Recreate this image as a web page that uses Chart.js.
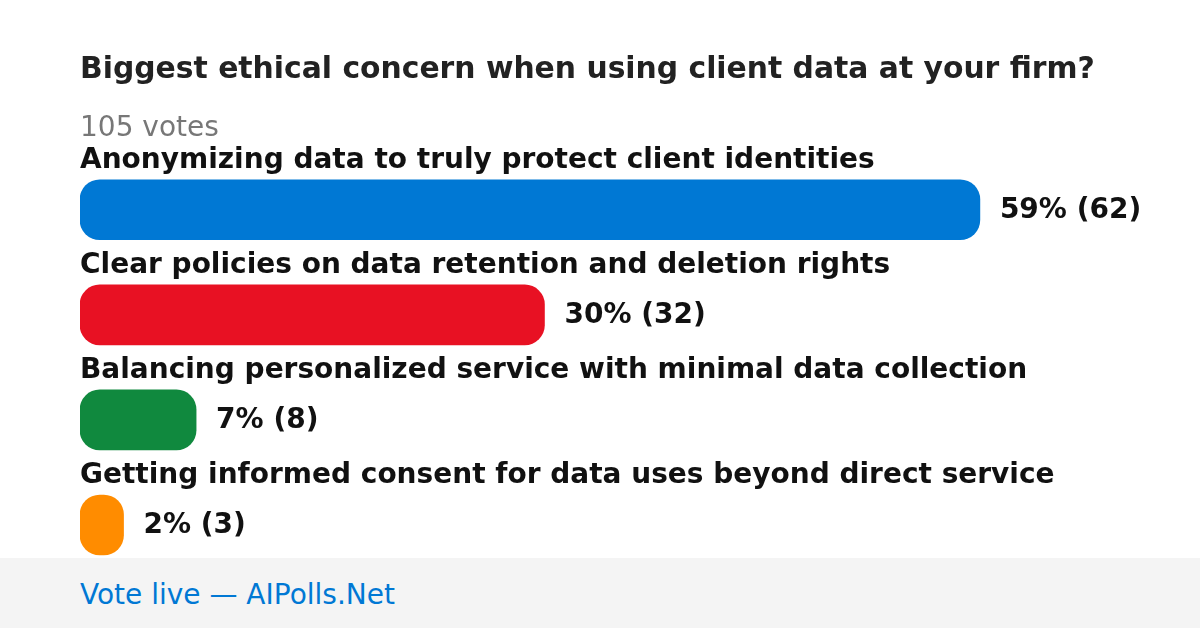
<!DOCTYPE html>
<html lang="en">
<head>
    <meta charset="UTF-8">
    <title>Biggest ethical concern when using client data</title>
    <script src="https://cdn.jsdelivr.net/npm/chart.js"></script>
    <style>
      body {
        margin: 0;
        background: white;
        font-family: "DejaVu Sans", sans-serif;
      }
      .wrap {
        position: relative;
        width: 1200px;
        height: 628px;
        overflow: hidden;
      }
      canvas {
        display: block;
      }
      .footer {
        position: absolute;
        left: 0;
        top: 558px;
        width: 1200px;
        height: 70px;
        background: #f4f4f4;
        color: #0078d4;
        font-size: 28px;
        line-height: 74px;
        padding-left: 80px;
        box-sizing: border-box;
      }
    </style>
</head>
<body>
  <div class="wrap">
    <canvas id="pollChart" width="1200" height="628"></canvas>
    <div class="footer">Vote live — AIPolls.Net</div>
  </div>

  <script>
    const pollTitle = "Biggest ethical concern when using client data at your firm?";
    const totalVotes = "105 votes";
    const options = [
      "Anonymizing data to truly protect client identities",
      "Clear policies on data retention and deletion rights",
      "Balancing personalized service with minimal data collection",
      "Getting informed consent for data uses beyond direct service"
    ];
    const votes = [62, 32, 8, 3];
    const percents = [59, 30, 7, 2];
    const barColors = ["#0078d4", "#e81123", "#10893e", "#ff8c00"];

    const FONT = "DejaVu Sans";

    // labels above each bar + value text to the right of it
    const barText = {
      id: 'barText',
      afterDatasetsDraw(chart) {
        const ctx = chart.ctx;
        const meta = chart.getDatasetMeta(0);
        ctx.save();
        ctx.fillStyle = '#111';
        ctx.textBaseline = 'middle';
        ctx.textAlign = 'left';
        ctx.font = 'bold 28px "' + FONT + '"';
        meta.data.forEach((bar, i) => {
          const half = bar.height / 2;
          ctx.fillText(options[i], chart.chartArea.left, bar.y - half - 19);
          ctx.fillText(percents[i] + '% (' + votes[i] + ')', bar.x + 20, bar.y + 1);
        });
        ctx.restore();
      }
    };

    new Chart(document.getElementById('pollChart'), {
      type: 'bar',
      data: {
        labels: options,
        datasets: [{
          data: votes,
          backgroundColor: barColors,
          borderRadius: 20,
          borderSkipped: false,
          barThickness: 60
        }]
      },
      options: {
        indexAxis: 'y',
        responsive: false,
        animation: false,
        layout: {
          padding: { top: 0, left: 80, right: 104, bottom: 50.5 }
        },
        scales: {
          x: { display: false, min: 0, max: 70 },
          y: { display: false }
        },
        plugins: {
          legend: { display: false },
          tooltip: { enabled: false },
          title: {
            display: true,
            text: pollTitle,
            align: 'start',
            color: '#222',
            font: { family: FONT, size: 29.8, weight: 'bold', lineHeight: 1.2 },
            padding: { top: 52, bottom: 10 }
          },
          subtitle: {
            display: true,
            text: totalVotes,
            align: 'start',
            color: '#777',
            font: { family: FONT, size: 28, weight: 'normal', lineHeight: 1.2 },
            padding: { top: 14.2, bottom: 11.7 }
          }
        }
      },
      plugins: [barText]
    });
  </script>
</body>
</html>
